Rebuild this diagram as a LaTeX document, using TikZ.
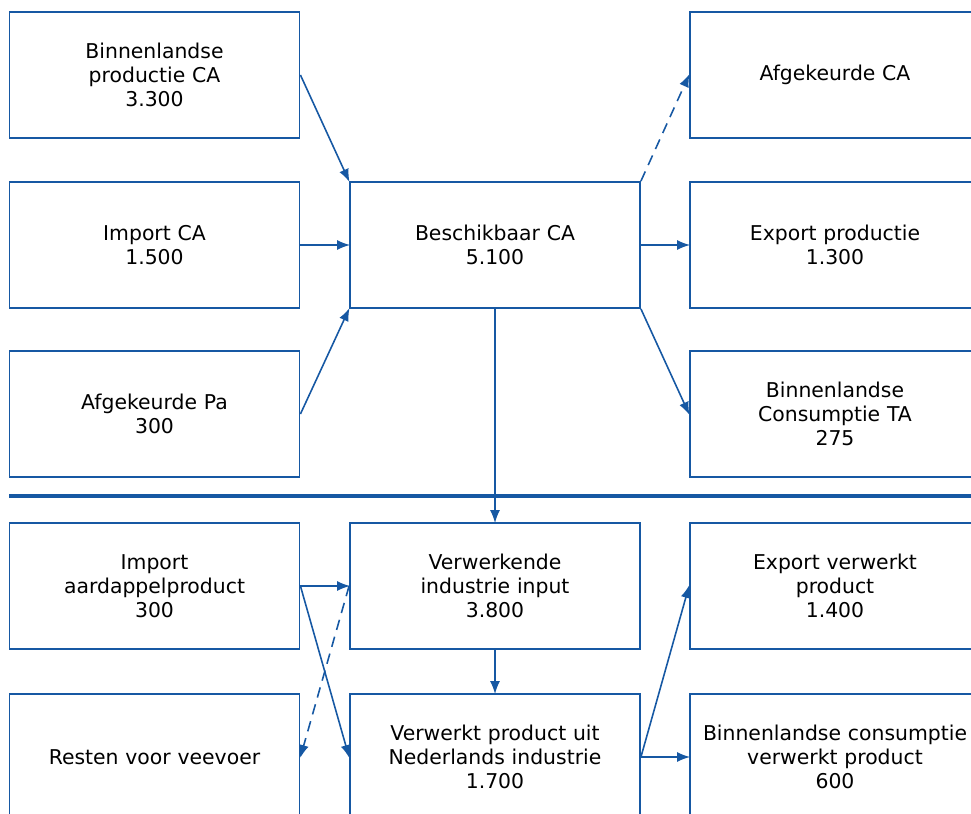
\documentclass[tikz,border=0pt]{standalone}
\usepackage{fontspec}
\setmainfont{DejaVu Sans}
\usepackage{xcolor}
\usetikzlibrary{arrows.meta,positioning}

\definecolor{flowblue}{RGB}{22,88,163}

\tikzset{
    flowbox/.style={draw=flowblue, line width=1.1pt, rectangle,
        minimum width=5.8cm, minimum height=2.52cm, inner xsep=0.1cm,
        text width=5.5cm, align=center, font=\fontsize{11.6}{13.6}\selectfont},
    flowarrow/.style={draw=flowblue, line width=0.9pt, shorten >=-0.6pt,
        -{Latex[length=2.6mm,width=2mm]}},
    flowdash/.style={flowarrow, dashed, dash pattern=on 6pt off 4pt}
}

\begin{document}
\begin{tikzpicture}[x=0.02cm, y=-0.02cm]
        % fixed frame, boxes at the right and bottom run out of it
        \useasboundingbox (0,0) rectangle (971,814);
        \clip (0,0) rectangle (971,814);

        % upper part
        \node[flowbox] (binprod) at (154.5,75)  {Binnenlandse\\productie CA\\3.300};
        \node[flowbox] (impca)   at (154.5,245) {Import CA\\1.500};
        \node[flowbox] (afgpa)   at (154.5,414) {Afgekeurde Pa\\300};
        \node[flowbox] (besch)   at (495,245)   {Beschikbaar CA\\5.100};
        \node[flowbox] (afgca)   at (835,75)    {Afgekeurde CA};
        \node[flowbox] (expprod) at (835,245)   {Export productie\\1.300};
        \node[flowbox] (bincons) at (835,414)   {Binnenlandse\\Consumptie TA\\275};

        % divider
        \draw[flowblue, line width=2.2pt] (9,496) -- (971,496);

        % lower part
        \node[flowbox] (impaard) at (154.5,586) {Import\\aardappelproduct\\300};
        \node[flowbox] (resten)  at (154.5,757) {Resten voor veevoer};
        \node[flowbox] (verwin)  at (495,586)   {Verwerkende\\industrie input\\3.800};
        \node[flowbox] (verwprod) at (495,757)  {Verwerkt product uit\\Nederlands industrie\\1.700};
        \node[flowbox] (expverw) at (835,586)   {Export verwerkt\\product\\1.400};
        \node[flowbox] (binverw) at (835,757)   {Binnenlandse consumptie\\verwerkt product\\600};

        % connectors upper part
        \draw[flowarrow] (binprod.east) -- (besch.north west);
        \draw[flowarrow] (impca.east) -- (besch.west);
        \draw[flowarrow] (afgpa.east) -- (besch.south west);
        \draw[flowdash]  (besch.north east) -- (afgca.west);
        \draw[flowarrow] (besch.east) -- (expprod.west);
        \draw[flowarrow] (besch.south east) -- (bincons.west);
        \draw[flowarrow] (besch.south) -- (verwin.north);

        % connectors lower part
        \draw[flowarrow] (impaard.east) -- (verwin.west);
        \draw[flowarrow] (impaard.east) -- (verwprod.west);
        \draw[flowdash]  (verwin.west) -- (resten.east);
        \draw[flowarrow] (verwin.south) -- (verwprod.north);
        \draw[flowarrow] (verwprod.east) -- (expverw.west);
        \draw[flowarrow] (verwprod.east) -- (binverw.west);
\end{tikzpicture}
\end{document}
